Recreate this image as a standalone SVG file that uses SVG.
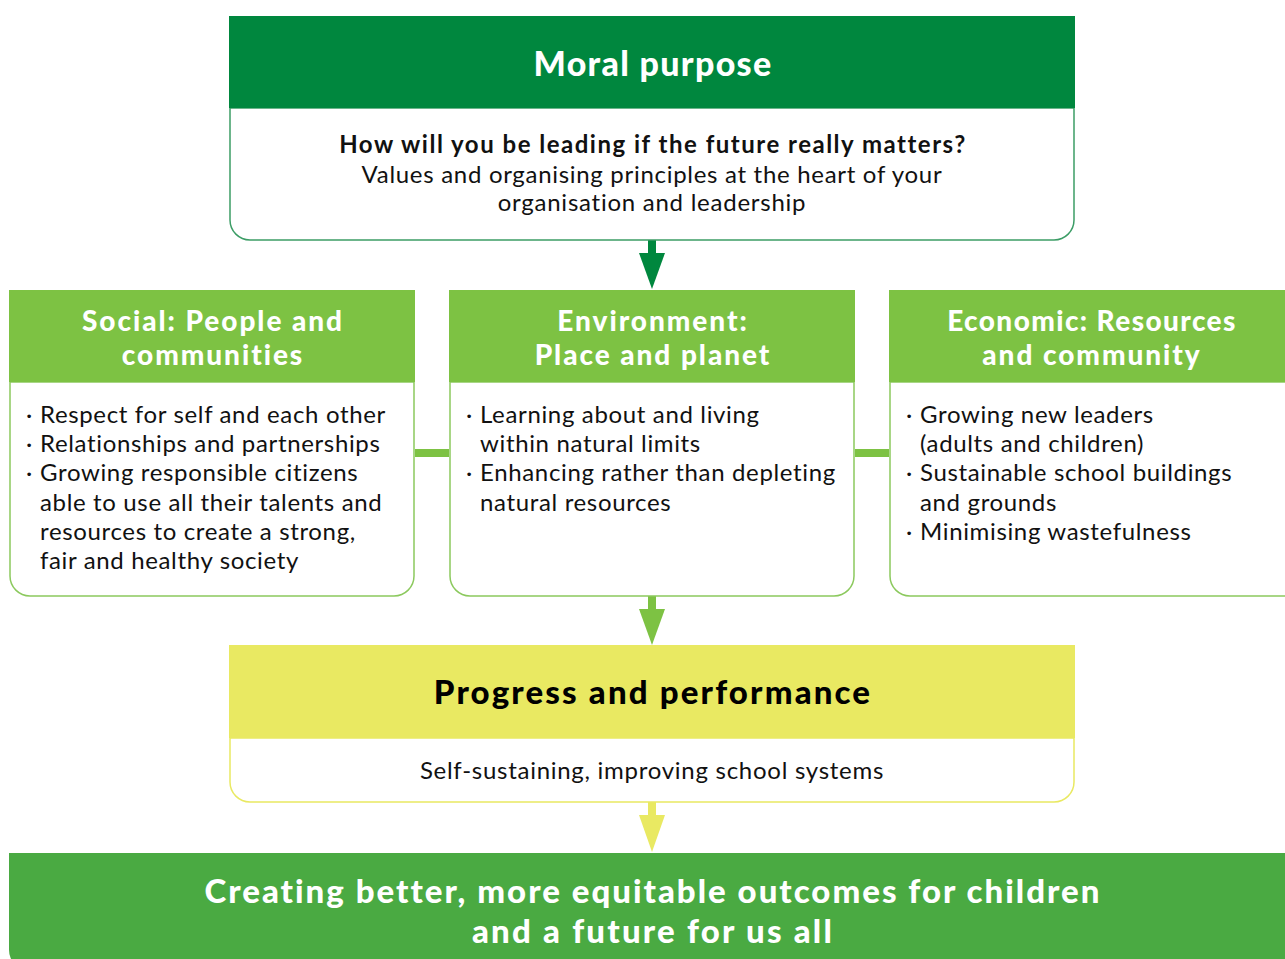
<svg xmlns="http://www.w3.org/2000/svg" width="1285" height="959" viewBox="0 0 1285 959">
<style>
.t{font-family:Lato,"Liberation Sans",sans-serif;}
.hd{font-weight:900;fill:#fff;font-size:28px;text-anchor:middle;letter-spacing:1.95px}
.bl{font-size:24px;fill:#111;letter-spacing:0.65px}
.c{text-anchor:middle}
</style>
<rect width="1285" height="959" fill="#fff"/>
<g id="connectors">
<rect x="415" y="449" width="34" height="8" fill="#7DC243"/>
<rect x="855" y="449" width="34" height="8" fill="#7DC243"/>
<rect x="648" y="240" width="8" height="14" fill="#00873E"/>
<polygon points="639,253 665,253 652,289" fill="#00873E"/>
<rect x="648" y="596" width="8" height="14" fill="#7DC243"/>
<polygon points="639,609 665,609 652,645" fill="#7DC243"/>
<rect x="648" y="802" width="8" height="14" fill="#E9E962"/>
<polygon points="639,815 665,815 652,852" fill="#E9E962"/>
</g>
<g id="moral" class="t">
<path d="M230,108 H1074 V220 A20,20 0 0 1 1054,240 H250 A20,20 0 0 1 230,220 Z" fill="#fff" stroke="#3c9d66" stroke-width="1.5"/>
<rect x="229" y="16" width="846" height="92" fill="#00873E"/>
<text x="653" y="76" class="hd" style="font-size:34px;letter-spacing:1.3px">Moral purpose</text>
<text x="653" y="153" class="c" style="font-size:24px;font-weight:bold;fill:#111;letter-spacing:1.5px">How will you be leading if the future really matters?</text>
<text x="652" y="183" class="c" style="font-size:24px;fill:#111;letter-spacing:0.7px">Values and organising principles at the heart of your</text>
<text x="652" y="211" class="c" style="font-size:24px;fill:#111;letter-spacing:0.75px">organisation and leadership</text>
</g>
<g id="social" class="t">
<path d="M10,382 H414 V576 A20,20 0 0 1 394,596 H30 A20,20 0 0 1 10,576 Z" fill="#fff" stroke="#8cc95e" stroke-width="1.5"/>
<rect x="9" y="290" width="406" height="92" fill="#7DC243"/>
<text x="213" y="331" class="hd">Social: People and</text>
<text x="213" y="365" class="hd">communities</text>
<text class="bl"><tspan x="26" y="423">·</tspan><tspan x="26" y="452">·</tspan><tspan x="26" y="481">·</tspan></text>
<text class="bl"><tspan x="40" y="423">Respect for self and each other</tspan><tspan x="40" y="452">Relationships and partnerships</tspan><tspan x="40" y="481">Growing responsible citizens</tspan><tspan x="40" y="511">able to use all their talents and</tspan><tspan x="40" y="540">resources to create a strong,</tspan><tspan x="40" y="569">fair and healthy society</tspan></text>
</g>
<g id="environment" class="t">
<path d="M450,382 H854 V576 A20,20 0 0 1 834,596 H470 A20,20 0 0 1 450,576 Z" fill="#fff" stroke="#8cc95e" stroke-width="1.5"/>
<rect x="449" y="290" width="406" height="92" fill="#7DC243"/>
<text x="653" y="331" class="hd">Environment:</text>
<text x="653" y="365" class="hd">Place and planet</text>
<text class="bl"><tspan x="466" y="423">·</tspan><tspan x="466" y="481">·</tspan></text>
<text class="bl"><tspan x="480" y="423">Learning about and living</tspan><tspan x="480" y="452">within natural limits</tspan><tspan x="480" y="481">Enhancing rather than depleting</tspan><tspan x="480" y="511">natural resources</tspan></text>
</g>
<g id="economic" class="t">
<path d="M890,382 H1290 V596 H910 A20,20 0 0 1 890,576 Z" fill="#fff" stroke="#8cc95e" stroke-width="1.5"/>
<rect x="889" y="290" width="400" height="92" fill="#7DC243"/>
<text x="1092" y="331" class="hd" style="letter-spacing:1.4px">Economic: Resources</text>
<text x="1092" y="365" class="hd">and community</text>
<text class="bl"><tspan x="906" y="423">·</tspan><tspan x="906" y="481">·</tspan><tspan x="906" y="540">·</tspan></text>
<text class="bl"><tspan x="920" y="423">Growing new leaders</tspan><tspan x="920" y="452">(adults and children)</tspan><tspan x="920" y="481">Sustainable school buildings</tspan><tspan x="920" y="511">and grounds</tspan><tspan x="920" y="540">Minimising wastefulness</tspan></text>
</g>
<g id="progress" class="t">
<path d="M230,738 H1074 V782 A20,20 0 0 1 1054,802 H250 A20,20 0 0 1 230,782 Z" fill="#fff" stroke="#E9E962" stroke-width="1.5"/>
<rect x="229" y="645" width="846" height="93" fill="#E9E962"/>
<text x="653" y="704" class="c" style="font-size:33px;font-weight:900;fill:#000;letter-spacing:2.15px">Progress and performance</text>
<text x="652" y="779" class="c" style="font-size:24px;fill:#111;letter-spacing:0.73px">Self-sustaining, improving school systems</text>
</g>
<g id="outcome" class="t">
<path d="M9,853 H1290 V970 H29 A20,20 0 0 1 9,950 Z" fill="#4AAA42"/>
<text x="653" y="903" class="hd" style="font-size:33px;letter-spacing:2px">Creating better, more equitable outcomes for children</text>
<text x="653" y="943" class="hd" style="font-size:33px;letter-spacing:2.2px">and a future for us all</text>
</g>
</svg>
